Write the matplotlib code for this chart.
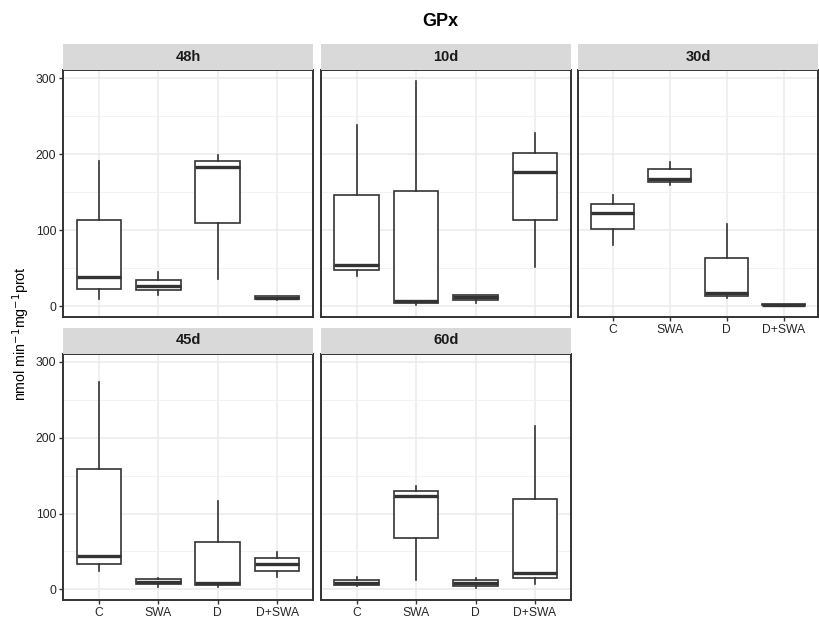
import matplotlib
matplotlib.use("Agg")
import matplotlib.pyplot as plt

plt.rcParams['font.family'] = ['Liberation Sans', 'DejaVu Sans']

groups = ['C', 'SWA', 'D', 'D+SWA']
times = ['48h', '10d', '30d', '45d', '60d']

# box stats per time point: (whislo, q1, med, q3, whishi) for C, SWA, D, D+SWA
stats = {
    '48h': [(9, 23, 38, 114, 191), (15, 21, 27, 35, 45),
            (36, 110, 183, 191, 199), (8, 9, 11, 13, 13)],
    '10d': [(40, 47, 54, 146, 238), (1, 3.5, 6.5, 151, 296),
            (3.5, 8, 12, 14.5, 14.5), (51, 113, 177, 202, 228)],
    '30d': [(81, 101, 123, 134, 146), (159, 164, 168, 180, 190),
            (11, 13, 17, 63, 108), (1, 1.5, 2, 2.5, 3)],
    '45d': [(24, 34, 44, 159, 274), (3.5, 7, 10, 14, 15),
            (3.5, 6, 8, 63, 117), (16, 24.5, 34, 42, 49)],
    '60d': [(4, 5.6, 9, 12, 16.5), (13, 68, 123, 129.5, 136.5),
            (1.5, 5, 8, 12, 14.5), (7, 14.5, 22, 118.6, 215)],
}

W, H = 820, 618
fig = plt.figure(figsize=(W / 100, H / 100), dpi=100)


def px_axes(x0, y0, x1, y1):
    return fig.add_axes([x0 / W, 1 - y1 / H, (x1 - x0) / W, (y1 - y0) / H])


cols = [(63.3, 312.7), (321, 570.7), (578.3, 818)]
rows = [(70, 316.7), (353.5, 600)]
strip_h = 26
line_col = '#333333'

positions = {'48h': (0, 0), '10d': (0, 1), '30d': (0, 2), '45d': (1, 0), '60d': (1, 1)}

for t in times:
    r, c = positions[t]
    x0, x1 = cols[c]
    y0, y1 = rows[r]
    ax = px_axes(x0, y0, x1, y1)
    bx = []
    for g, s in zip(groups, stats[t]):
        lo, q1, med, q3, hi = s
        bx.append(dict(label=g, whislo=lo, q1=q1, med=med, q3=q3, whishi=hi, fliers=[]))
    ax.bxp(bx, positions=[1, 2, 3, 4], widths=0.75, showfliers=False, patch_artist=True,
           boxprops=dict(facecolor='white', edgecolor=line_col, linewidth=1.2),
           medianprops=dict(color=line_col, linewidth=2.4),
           whiskerprops=dict(color=line_col, linewidth=1.2),
           capprops=dict(linewidth=0), zorder=3)
    ax.set_xlim(0.4, 4.6)
    ax.set_ylim(-14, 311)
    ax.set_yticks([0, 100, 200, 300])
    ax.set_yticks([50, 150, 250], minor=True)
    ax.set_xticks([1, 2, 3, 4])
    ax.grid(True, which='major', color='#EBEBEB', linewidth=1.1, zorder=0)
    ax.grid(True, which='minor', axis='y', color='#F2F2F2', linewidth=0.7, zorder=0)
    ax.set_axisbelow(True)
    for sp in ax.spines.values():
        sp.set_color(line_col)
        sp.set_linewidth(1.4)
    ax.tick_params(which='minor', length=0)
    ax.tick_params(which='major', length=3, width=1.0, color=line_col, labelsize=8.7,
                   labelcolor='#262626', pad=2)
    if c == 0:
        ax.set_yticklabels(['0', '100', '200', '300'])
    else:
        ax.tick_params(axis='y', which='major', length=0, labelleft=False)
    if t in ('30d', '45d', '60d'):
        ax.set_xticklabels(groups)
    else:
        ax.tick_params(axis='x', length=0, labelbottom=False)
    # strip
    sax = px_axes(x0, y0 - strip_h, x1, y0)
    sax.set_facecolor('#D9D9D9')
    sax.set_xticks([])
    sax.set_yticks([])
    for sp in sax.spines.values():
        sp.set_visible(False)
    sax.text(0.5, 0.5, t, ha='center', va='center', fontsize=10.5,
             fontweight='bold', color='#1A1A1A', transform=sax.transAxes)

fig.text(440 / W, 1 - 21 / H, 'GPx', ha='center', va='center', fontsize=13,
         fontweight='bold')
fig.text(21 / W, 1 - 334 / H, 'nmol min$^{-1}$mg$^{-1}$prot', rotation=90,
         ha='center', va='center', fontsize=10.3)

fig.savefig('out.png', dpi=100)
